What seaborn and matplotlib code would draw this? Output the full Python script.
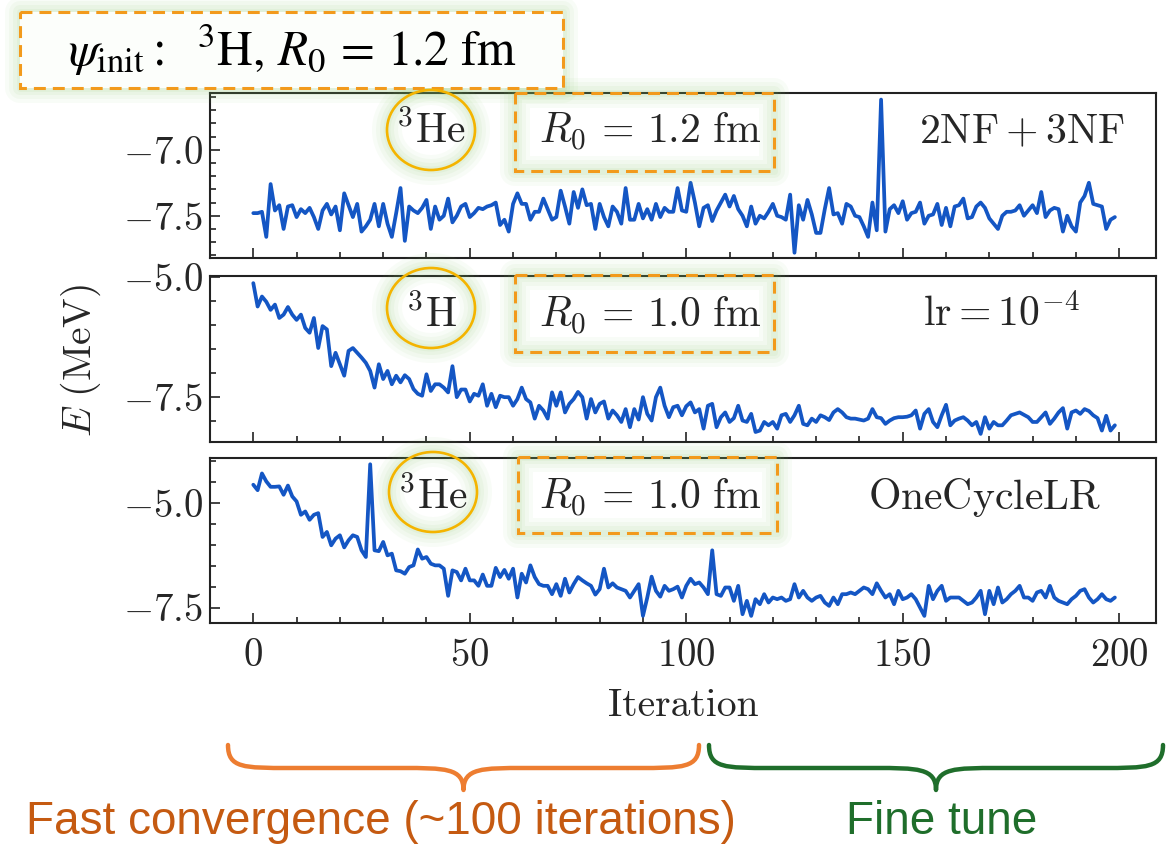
import numpy as np
import pandas as pd
import seaborn as sns
import matplotlib
matplotlib.use("Agg")
import matplotlib.pyplot as plt
import matplotlib.transforms as mtransforms
from matplotlib.patches import Rectangle, Ellipse, PathPatch
from matplotlib.path import Path
from matplotlib.ticker import MultipleLocator

# ---------------- data ----------------
iterations = list(range(200))

energy_he3_r12_2nf3nf = [
    -7.48, -7.48, -7.47, -7.66, -7.26, -7.46, -7.42, -7.60, -7.43, -7.42,
    -7.51, -7.45, -7.48, -7.44, -7.51, -7.60, -7.46, -7.41, -7.49, -7.43,
    -7.61, -7.33, -7.42, -7.51, -7.41, -7.62, -7.58, -7.53, -7.41, -7.58,
    -7.41, -7.56, -7.66, -7.48, -7.29, -7.69, -7.43, -7.46, -7.48, -7.44,
    -7.38, -7.60, -7.43, -7.53, -7.50, -7.37, -7.55, -7.50, -7.43, -7.41,
    -7.51, -7.48, -7.44, -7.45, -7.43, -7.42, -7.40, -7.57, -7.53, -7.62,
    -7.41, -7.33, -7.41, -7.41, -7.53, -7.47, -7.47, -7.37, -7.45, -7.53,
    -7.51, -7.31, -7.43, -7.56, -7.32, -7.44, -7.30, -7.42, -7.41, -7.60,
    -7.41, -7.51, -7.58, -7.43, -7.47, -7.56, -7.29, -7.53, -7.53, -7.41,
    -7.52, -7.45, -7.53, -7.41, -7.51, -7.44, -7.47, -7.47, -7.29, -7.46,
    -7.47, -7.25, -7.40, -7.58, -7.44, -7.42, -7.54, -7.46, -7.40, -7.34,
    -7.43, -7.35, -7.45, -7.50, -7.58, -7.43, -7.56, -7.50, -7.52, -7.47,
    -7.41, -7.50, -7.51, -7.53, -7.34, -7.78, -7.42, -7.53, -7.38, -7.49,
    -7.63, -7.63, -7.45, -7.29, -7.49, -7.48, -7.56, -7.41, -7.43, -7.50,
    -7.51, -7.58, -7.66, -7.40, -7.61, -6.62, -7.62, -7.45, -7.42, -7.48,
    -7.39, -7.53, -7.48, -7.47, -7.40, -7.56, -7.50, -7.49, -7.41, -7.57,
    -7.44, -7.58, -7.43, -7.42, -7.37, -7.52, -7.51, -7.43, -7.40, -7.44,
    -7.52, -7.56, -7.60, -7.50, -7.47, -7.47, -7.46, -7.42, -7.50, -7.46,
    -7.42, -7.48, -7.32, -7.51, -7.46, -7.44, -7.45, -7.62, -7.50, -7.58,
    -7.62, -7.40, -7.35, -7.25, -7.41, -7.42, -7.43, -7.60, -7.53, -7.51,
]

energy_h3_r10_lr = [
    -5.12, -5.61, -5.40, -5.51, -5.68, -5.57, -5.85, -5.78, -5.62, -5.78,
    -5.89, -5.78, -6.06, -6.16, -5.85, -6.48, -6.02, -6.09, -6.86, -6.58,
    -6.82, -7.06, -6.54, -6.48, -6.58, -6.68, -6.79, -6.96, -7.31, -6.82,
    -7.13, -6.96, -7.24, -7.06, -7.20, -7.05, -7.13, -7.34, -7.44, -7.48,
    -7.03, -7.38, -7.24, -7.24, -7.31, -7.41, -6.86, -7.51, -7.35, -7.35,
    -7.60, -7.44, -7.48, -7.24, -7.69, -7.44, -7.72, -7.48, -7.51, -7.51,
    -7.69, -7.55, -7.31, -7.55, -7.62, -7.96, -7.69, -7.79, -7.96, -7.41,
    -7.69, -7.41, -7.83, -7.65, -7.55, -7.40, -7.51, -7.96, -7.55, -7.83,
    -7.65, -7.60, -7.96, -7.79, -7.89, -8.03, -7.76, -8.14, -7.76, -7.98,
    -7.51, -7.86, -8.00, -7.51, -7.31, -7.69, -7.93, -7.72, -7.69, -7.89,
    -7.70, -7.62, -7.83, -7.76, -8.17, -7.69, -7.65, -8.14, -7.93, -7.83,
    -8.03, -7.95, -7.69, -8.00, -8.03, -7.86, -8.24, -8.21, -8.03, -8.10,
    -8.03, -8.17, -7.89, -7.86, -8.03, -7.89, -7.69, -8.07, -8.10, -7.96,
    -8.03, -7.89, -7.93, -7.99, -7.83, -7.76, -7.83, -7.93, -7.96, -7.96,
    -7.98, -8.00, -7.96, -7.76, -7.93, -7.95, -8.07, -8.00, -7.95, -7.93,
    -7.93, -7.92, -7.89, -7.79, -8.17, -7.86, -7.76, -8.03, -8.14, -7.89,
    -7.67, -8.10, -8.00, -7.96, -7.93, -8.00, -8.10, -8.03, -8.28, -7.93,
    -8.17, -8.03, -8.10, -8.10, -8.00, -7.89, -7.86, -7.83, -7.88, -7.93,
    -8.03, -8.03, -7.93, -7.83, -8.07, -7.96, -7.83, -7.74, -8.17, -7.83,
    -7.79, -7.86, -7.76, -7.80, -7.89, -7.95, -8.21, -7.90, -8.21, -8.10,
]

energy_he3_r10_onecycle = [
    -4.56, -4.69, -4.29, -4.48, -4.61, -4.61, -4.60, -4.80, -4.58, -4.84,
    -4.96, -5.28, -5.20, -5.40, -5.28, -5.24, -5.81, -5.69, -6.01, -5.85,
    -5.77, -6.06, -5.89, -5.77, -5.81, -6.13, -6.29, -4.07, -6.13, -6.15,
    -5.93, -6.25, -6.21, -6.61, -6.63, -6.69, -6.53, -6.49, -6.11, -6.33,
    -6.29, -6.45, -6.49, -6.49, -6.57, -7.22, -6.61, -6.65, -6.85, -6.57,
    -6.85, -6.85, -6.98, -6.71, -6.98, -6.98, -6.55, -6.77, -6.60, -6.81,
    -6.57, -7.26, -6.69, -6.90, -6.49, -6.77, -6.94, -6.98, -6.98, -7.18,
    -6.94, -7.22, -6.81, -7.14, -6.94, -6.77, -6.85, -6.92, -6.98, -7.19,
    -7.06, -6.57, -7.02, -6.92, -7.02, -7.06, -7.10, -7.26, -7.10, -6.94,
    -7.70, -7.26, -6.76, -7.10, -7.24, -6.98, -7.10, -7.06, -7.00, -7.26,
    -6.98, -6.81, -6.94, -6.90, -7.02, -7.18, -6.13, -7.18, -7.22, -7.02,
    -7.02, -7.34, -6.98, -7.66, -7.34, -7.70, -7.30, -7.42, -7.18, -7.38,
    -7.26, -7.30, -7.26, -7.34, -7.30, -6.94, -7.26, -7.10, -7.26, -7.34,
    -7.26, -7.22, -7.38, -7.46, -7.26, -7.42, -7.18, -7.18, -7.14, -7.18,
    -7.10, -7.02, -7.06, -7.18, -6.92, -7.10, -7.26, -7.18, -7.42, -7.10,
    -7.30, -7.26, -7.18, -7.30, -7.50, -7.70, -6.98, -7.30, -7.10, -6.98,
    -7.34, -7.26, -7.26, -7.26, -7.34, -7.42, -7.38, -7.26, -7.10, -7.66,
    -7.10, -7.42, -7.02, -7.38, -7.30, -7.18, -7.10, -6.98, -7.26, -7.26,
    -7.34, -7.14, -7.10, -7.26, -6.98, -7.26, -7.34, -7.38, -7.42, -7.30,
    -7.22, -7.10, -7.06, -7.26, -7.38, -7.30, -7.18, -7.30, -7.34, -7.26,
]

nucleus_labels = [r"${}^{3}\mathrm{He}$", r"${}^{3}\mathrm{H}$", r"${}^{3}\mathrm{He}$"]
radius_labels = [r"$R_0\,=\,1.2\ \mathrm{fm}$", r"$R_0\,=\,1.0\ \mathrm{fm}$", r"$R_0\,=\,1.0\ \mathrm{fm}$"]
setting_labels = [r"$\mathrm{2NF}+\mathrm{3NF}$", r"$\mathrm{lr}=10^{-4}$", r"$\mathrm{OneCycleLR}$"]
x_ticks = [0, 50, 100, 150, 200]
init_label = r"$\psi_{\mathrm{init}}\mathrm{:}\ \ {}^{3}\mathrm{H},\, R_0 \,=\, 1.2\ \mathrm{fm}$"
xlabel_text = "Iteration"
ylabel_text = r"$E\ (\mathrm{MeV})$"
phase_labels = ["Fast convergence (~100 iterations)", "Fine tune"]

# ---------------- style ----------------
sns.set_theme(style="ticks")
plt.rcParams["font.family"] = "serif"
plt.rcParams["font.serif"] = ["cmr10", "DejaVu Serif"]
plt.rcParams["mathtext.fontset"] = "cm"
plt.rcParams["axes.formatter.use_mathtext"] = True
plt.rcParams["axes.unicode_minus"] = True

W, H = 1173, 846
fig = plt.figure(figsize=(W / 100, H / 100), dpi=100)
fig.patch.set_facecolor("white")
pxT = mtransforms.Affine2D().scale(1 / W, -1 / H).translate(0, 1) + fig.transFigure

LINE = "#1456C4"
TICK_FS = 28
ANN_FS = 30

panel_specs = [
    dict(top=93, h=165, data=energy_he3_r12_2nf3nf, ylim=(-7.82, -6.57), major=0.5, minor=0.1),
    dict(top=276, h=166, data=energy_h3_r10_lr, ylim=(-8.45, -4.97), major=2.5, minor=0.5),
    dict(top=458, h=165, data=energy_he3_r10_onecycle, ylim=(-7.87, -3.92), major=2.5, minor=0.5),
]

axes = []
for k, spec in enumerate(panel_specs):
    ax = fig.add_axes([210 / W, 1 - (spec["top"] + spec["h"]) / H, 946 / W, spec["h"] / H])
    df = pd.DataFrame({"Iteration": iterations, "E": spec["data"]})
    sns.lineplot(data=df, x="Iteration", y="E", ax=ax, color=LINE, linewidth=2.7)
    ax.set_xlim(-10, 208.5)
    ax.set_ylim(*spec["ylim"])
    ax.set_xticks(x_ticks)
    ax.xaxis.set_minor_locator(MultipleLocator(10))
    ax.yaxis.set_major_locator(MultipleLocator(spec["major"]))
    ax.yaxis.set_minor_locator(MultipleLocator(spec["minor"]))
    ax.tick_params(which="both", direction="in", top=False, right=False, width=1.2, color="#222222")
    ax.tick_params(which="major", length=7.5)
    ax.tick_params(which="minor", length=4.2)
    ax.tick_params(axis="y", which="major", labelsize=TICK_FS, pad=5)
    ax.tick_params(axis="x", which="major", labelsize=TICK_FS, pad=11,
                   labelbottom=(k == 2))
    ax.set_xlabel("")
    ax.set_ylabel("")
    for sp in ax.spines.values():
        sp.set_linewidth(1.5)
        sp.set_color("#222222")
    axes.append(ax)

axes[2].set_xlabel(xlabel_text, fontsize=28.5, labelpad=10)
fig.text(81 / W, 1 - 360 / H, ylabel_text, rotation=90, ha="center", va="center", fontsize=28.5)

# ---------------- annotations ----------------
GLOW = "#86C866"
ORANGE_DASH = "#F29A1C"
GOLD = "#F4B400"


def glow_rect(x0, y0, x1, y1):
    for lw, a in [(30, 0.05), (22, 0.06), (14, 0.07), (7, 0.08)]:
        fig.patches.append(Rectangle((x0, y0), x1 - x0, y1 - y0, transform=pxT, fill=False,
                                     edgecolor=GLOW, alpha=a, linewidth=lw * 0.72,
                                     joinstyle="round", zorder=3))


def glow_ellipse(cx, cy, w, h):
    for lw, a in [(30, 0.05), (22, 0.06), (14, 0.07), (7, 0.08)]:
        fig.patches.append(Ellipse((cx, cy), w, h, transform=pxT, fill=False,
                                   edgecolor=GLOW, alpha=a, linewidth=lw * 0.72, zorder=3))


def dashed_rect(x0, y0, x1, y1, face=None):
    if face is not None:
        fig.patches.append(Rectangle((x0, y0), x1 - x0, y1 - y0, transform=pxT,
                                     facecolor=face, edgecolor="none", zorder=3.5))
    fig.patches.append(Rectangle((x0, y0), x1 - x0, y1 - y0, transform=pxT, fill=False,
                                 edgecolor=ORANGE_DASH, linewidth=2.2,
                                 linestyle=(0, (3.9, 2.3)), zorder=4))


# top-left initial-state box
glow_rect(20, 12, 563, 88)
dashed_rect(20, 12, 563, 88, face="#FCFEFB")
fig.text(293 / W, 1 - 66 / H, init_label, ha="center", va="baseline", fontsize=35.5,
         math_fontfamily="stix", color="black", zorder=5)

circle_centers = [(431, 130), (431, 308), (433, 492)]
text_baselines = [143, 327, 509]
box_rects = [(515, 93, 774, 171), (515, 275, 774, 352), (518, 457, 777, 533)]
setting_x = [1022, 1001, 985]

for k in range(3):
    cx, cy = circle_centers[k]
    glow_ellipse(cx, cy, 88, 80)
    fig.patches.append(Ellipse((cx, cy), 88, 80, transform=pxT, fill=False,
                               edgecolor=GOLD, linewidth=1.9, zorder=4))
    fig.text(cx / W, 1 - text_baselines[k] / H, nucleus_labels[k], ha="center",
             va="baseline", fontsize=ANN_FS, zorder=5)
    x0, y0, x1, y1 = box_rects[k]
    glow_rect(x0, y0, x1, y1)
    dashed_rect(x0, y0, x1, y1)
    fig.text(650 / W, 1 - text_baselines[k] / H, radius_labels[k], ha="center",
             va="baseline", fontsize=ANN_FS, zorder=5)
    fig.text(setting_x[k] / W, 1 - text_baselines[k] / H, setting_labels[k], ha="center",
             va="baseline", fontsize=ANN_FS, zorder=5)


# ---------------- curly braces ----------------
def brace(x0, x1, ytop, ymid, ybot, color, r=62):
    xc = (x0 + x1) / 2
    verts = [
        (x0, ytop), (x0, ymid), (x0 + 0.25 * r, ymid), (x0 + r, ymid),
        (xc - r, ymid),
        (xc - 0.3 * r, ymid), (xc, ymid), (xc, ybot),
        (xc, ymid), (xc + 0.3 * r, ymid), (xc + r, ymid),
        (x1 - r, ymid),
        (x1 - 0.25 * r, ymid), (x1, ymid), (x1, ytop),
    ]
    codes = [Path.MOVETO, Path.CURVE4, Path.CURVE4, Path.CURVE4,
             Path.LINETO,
             Path.CURVE4, Path.CURVE4, Path.CURVE4,
             Path.CURVE4, Path.CURVE4, Path.CURVE4,
             Path.LINETO,
             Path.CURVE4, Path.CURVE4, Path.CURVE4]
    fig.patches.append(PathPatch(Path(verts, codes), transform=pxT, fill=False,
                                 edgecolor=color, linewidth=3.2, capstyle="round",
                                 joinstyle="round", zorder=4))


brace(228, 699, 745, 768, 790, "#ED7D31")
brace(709, 1163, 745, 768, 790, "#1F6E2B")

sans = ["Liberation Sans", "DejaVu Sans"]
fig.text(381 / W, 1 - 822 / H, phase_labels[0], ha="center", va="center", fontsize=33,
         family=sans, color="#C55A11")
fig.text(942 / W, 1 - 822 / H, phase_labels[1], ha="center", va="center", fontsize=33,
         family=sans, color="#1F6E2B")

fig.savefig("out.png", dpi=100, facecolor="white")
